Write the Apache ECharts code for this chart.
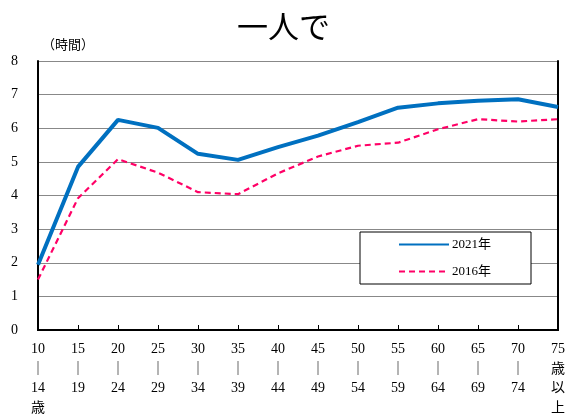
<!DOCTYPE html>
<html>
<head>
<meta charset="utf-8">
<script src="https://cdn.jsdelivr.net/npm/echarts@6/dist/echarts.min.js"></script>
<style>
  html, body { margin: 0; padding: 0; background: #fff; }
  #chart { width: 567px; height: 414px; }
</style>
</head>
<body>
<div id="chart"></div>
<script>
// Age groups (x axis), each label stacked vertically
const ageGroups = ['10｜14歳', '15｜19', '20｜24', '25｜29', '30｜34', '35｜39', '40｜44',
                   '45｜49', '50｜54', '55｜59', '60｜64', '65｜69', '70｜74', '75歳以上'];
const ageLabels = [
  ['10', '｜', '14', '歳'], ['15', '｜', '19'], ['20', '｜', '24'], ['25', '｜', '29'],
  ['30', '｜', '34'], ['35', '｜', '39'], ['40', '｜', '44'], ['45', '｜', '49'],
  ['50', '｜', '54'], ['55', '｜', '59'], ['60', '｜', '64'], ['65', '｜', '69'],
  ['70', '｜', '74'], ['75', '歳', '以', '上']
];

// Hours spent alone per day
const hours2021 = [1.94, 4.85, 6.25, 6.01, 5.24, 5.06, 5.44, 5.78, 6.18, 6.61, 6.74, 6.82, 6.86, 6.63];
const hours2016 = [1.50, 3.92, 5.08, 4.68, 4.10, 4.04, 4.66, 5.16, 5.48, 5.57, 5.97, 6.27, 6.20, 6.27];

const yTicks = [0, 1, 2, 3, 4, 5, 6, 7, 8];

const chart = echarts.init(document.getElementById('chart'), null, { renderer: 'canvas' });

const serif = '"Liberation Serif", "Noto Sans CJK JP", serif';

chart.setOption({
  animation: false,
  backgroundColor: '#fff',
  title: {
    text: '一人で',
    left: 'center',
    top: 6,
    textStyle: { fontFamily: '"Noto Sans CJK JP"', fontSize: 31, fontWeight: 'normal', color: '#000' }
  },
  grid: { left: 38, right: 9, top: 61, bottom: 84, outerBoundsMode: 'none', containLabel: false },
  legend: {
    orient: 'vertical',
    left: 360,
    top: 232,
    width: 172,
    padding: [6, 40, 6, 38],
    itemGap: 14,
    itemWidth: 50,
    itemHeight: 12,
    borderColor: '#000',
    borderWidth: 1,
    backgroundColor: '#fff',
    itemStyle: { opacity: 0 },
    textStyle: { fontFamily: serif, fontSize: 13, color: '#000', padding: [0, 0, 0, -2] },
    data: ['2021年', '2016年']
  },
  xAxis: [{
    type: 'category',
    data: ageGroups,
    boundaryGap: false,
    axisLine: { lineStyle: { color: '#000', width: 2 } },
    axisTick: { inside: true, length: 5, lineStyle: { color: '#000', width: 1 } },
    axisLabel: {
      interval: 0,
      margin: 10,
      fontFamily: serif,
      fontSize: 14,
      color: '#000',
      lineHeight: 19.5,
      verticalAlign: 'top',
      formatter: (v, i) => ageLabels[i].join('\n')
    }
  }, {
    type: 'category',
    position: 'top',
    data: ageGroups,
    boundaryGap: false,
    axisLine: { lineStyle: { color: '#000', width: 2 } },
    axisTick: { show: false },
    axisLabel: { show: false }
  }],
  yAxis: [{
    type: 'value',
    min: yTicks[0],
    max: yTicks[yTicks.length - 1],
    interval: 1,
    name: '（時間）',
    nameLocation: 'end',
    nameGap: 10,
    nameTextStyle: { fontFamily: '"Noto Sans CJK JP"', fontSize: 13, color: '#000', align: 'left', padding: [0, 0, 0, 4] },
    axisLine: { show: true, lineStyle: { color: '#000', width: 2 } },
    axisTick: { show: false },
    axisLabel: { margin: 20, fontFamily: serif, fontSize: 14, color: '#000' },
    splitLine: { lineStyle: { color: '#888', width: 1 } }
  }, {
    type: 'value',
    position: 'right',
    min: yTicks[0],
    max: yTicks[yTicks.length - 1],
    interval: 1,
    axisLine: { show: true, lineStyle: { color: '#000', width: 2 } },
    axisTick: { show: false },
    axisLabel: { show: false },
    splitLine: { show: false }
  }],
  series: [{
    name: '2021年',
    type: 'line',
    data: hours2021,
    symbol: 'none',
    lineStyle: { color: '#0070C0', width: 4 },
    itemStyle: { color: '#0070C0' },
    z: 3
  }, {
    name: '2016年',
    type: 'line',
    data: hours2016,
    symbol: 'none',
    lineStyle: { color: '#FF0066', width: 2.2, type: [6, 4] },
    itemStyle: { color: '#FF0066' },
    z: 2
  }]
});
</script>
</body>
</html>
